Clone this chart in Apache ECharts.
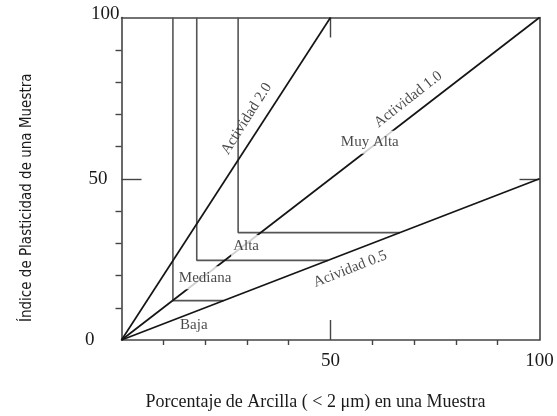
<!DOCTYPE html>
<html>
<head>
<meta charset="utf-8">
<script src="https://cdn.jsdelivr.net/npm/echarts@6/dist/echarts.min.js"></script>
<style>
  html, body { margin: 0; padding: 0; background: #fff; }
  #chart { width: 557px; height: 416px; }
</style>
</head>
<body>
<div id="chart"></div>
<script>
// Activity lines (clay fraction vs. plasticity index)
const activity20 = [[0, 0], [50, 100]];
const activity10 = [[0, 0], [100, 100]];
const activity05 = [[0, 0], [100, 50]];

// Zone boundaries: vertical drop from the top, then horizontal to the 0.5 line
const zoneMediana = [[12.3, 100], [12.3, 12.2], [24.4, 12.2]];
const zoneAlta    = [[18.0, 100], [18.0, 24.7], [49.4, 24.7]];
const zoneMuyAlta = [[27.9, 100], [27.9, 33.3], [66.6, 33.3]];

// Annotations
const noteTexts = ['Actividad 2.0', 'Actividad 1.0', 'Acividad 0.5', 'Muy Alta', 'Alta', 'Mediana', 'Baja'];
const noteX     = [29.9, 68.6, 54.7, 59.4, 29.8, 20.0, 17.3];
const noteY     = [68.6, 74.6, 22.0, 61.3, 29.0, 19.3, 4.6];
const noteSlope = [2, 1, 0.5, null, null, null, null];
const noteBoxed = [false, false, false, true, true, true, false];

// Axis tick values
const minorTicks = [10, 20, 30, 40, 60, 70, 80, 90];
const majorTicks = [50];
const xTickLabels = [50, 100];
const yTickLabels = [0, 50, 100];

const GRID = { left: 121.5, right: 17.5, top: 17.5, bottom: 70 };
const plotW = 557 - GRID.left - GRID.right;
const plotH = 416 - GRID.top - GRID.bottom;

const SERIF = "'Liberation Serif', 'Times New Roman', serif";
const NARROW = "'Liberation Sans Narrow', 'DejaVu Sans Condensed', sans-serif";
const FRAME = '#444';
const INK = '#151515';
const ZONE = '#555';
const TEXT = '#1a1a1a';

function slopeAngle(s) {
  // on-screen angle of a line with data slope s
  return Math.atan(s * (plotH / 100) / (plotW / 100)) * 180 / Math.PI;
}

function baseAxis(extra) {
  return Object.assign({
    type: 'value', min: 0, max: 100, interval: 10,
    splitLine: { show: false },
    axisLine: { show: false, onZero: false },
    axisTick: { show: false },
    axisLabel: { show: false }
  }, extra);
}

const tickStyle = { color: FRAME, width: 1.4 };

const chart = echarts.init(document.getElementById('chart'), null, { renderer: 'canvas' });

const lineSeries = (data, color, width) => ({
  type: 'line', data, xAxisIndex: 0, yAxisIndex: 0,
  symbol: 'none', silent: true, z: 2,
  lineStyle: { color, width }
});

chart.setOption({
  animation: false,
  backgroundColor: '#fff',
  grid: GRID,
  xAxis: [
    baseAxis({
      position: 'bottom',
      axisLine: { show: true, onZero: false, lineStyle: { color: FRAME, width: 1.6 } },
      axisTick: { show: true, inside: false, length: 5, customValues: minorTicks, lineStyle: tickStyle },
      axisLabel: {
        show: true, customValues: xTickLabels, margin: 12,
        color: TEXT, fontFamily: SERIF, fontSize: 19
      },
      name: 'Porcentaje de Arcilla ( < 2 μm) en una Muestra',
      nameLocation: 'middle', nameGap: 53,
      nameTextStyle: { color: TEXT, fontFamily: SERIF, fontSize: 18, padding: [0, 30, 0, 0] }
    }),
    baseAxis({
      position: 'bottom',
      axisTick: { show: true, inside: true, length: 20, customValues: majorTicks, lineStyle: tickStyle }
    }),
    baseAxis({
      position: 'top',
      axisLine: { show: true, onZero: false, lineStyle: { color: FRAME, width: 1.6 } },
      axisTick: { show: true, inside: true, length: 20, customValues: majorTicks, lineStyle: tickStyle }
    })
  ],
  yAxis: [
    baseAxis({
      position: 'left',
      axisLine: { show: true, onZero: false, lineStyle: { color: FRAME, width: 1.6 } },
      axisTick: { show: true, inside: false, length: 6, customValues: minorTicks, lineStyle: tickStyle },
      axisLabel: {
        show: true, customValues: yTickLabels, margin: 0,
        color: TEXT, fontFamily: SERIF, fontSize: 19,
        formatter: v => (v === 0 ? '{z|0}' : v === 50 ? '{f|50}' : '{h|100}'),
        rich: {
          z: { fontFamily: SERIF, fontSize: 19, color: TEXT, padding: [0, 27, 0, 0] },
          f: { fontFamily: SERIF, fontSize: 19, color: TEXT, padding: [0, 14, 0, 0] },
          h: { fontFamily: SERIF, fontSize: 19, color: TEXT, padding: [0, 2, 6, 0] }
        }
      },
      name: 'Índice de Plasticidad de una Muestra',
      nameLocation: 'middle', nameGap: 87, nameRotate: 90,
      nameTextStyle: { color: TEXT, fontFamily: NARROW, fontSize: 15, padding: [0, 38, 0, 0] }
    }),
    baseAxis({
      position: 'left',
      axisTick: { show: true, inside: true, length: 20, customValues: majorTicks, lineStyle: tickStyle }
    }),
    baseAxis({
      position: 'right',
      axisLine: { show: true, onZero: false, lineStyle: { color: FRAME, width: 1.6 } },
      axisTick: { show: true, inside: true, length: 20, customValues: majorTicks, lineStyle: tickStyle }
    })
  ],
  series: [
    lineSeries(zoneMediana, ZONE, 1.6),
    lineSeries(zoneAlta, ZONE, 1.6),
    lineSeries(zoneMuyAlta, ZONE, 1.6),
    lineSeries(activity20, INK, 1.7),
    lineSeries(activity10, INK, 1.7),
    lineSeries(activity05, INK, 1.7),
    {
      type: 'scatter', xAxisIndex: 0, yAxisIndex: 0,
      symbolSize: 0, silent: true, z: 5,
      data: noteTexts.map((t, i) => ({
        value: [noteX[i], noteY[i]],
        label: {
          show: true, position: 'inside', formatter: t,
          rotate: noteSlope[i] ? slopeAngle(noteSlope[i]) : 0,
          fontFamily: SERIF, fontSize: 15, color: TEXT,
          backgroundColor: noteBoxed[i] ? '#fff' : 'transparent',
          padding: noteBoxed[i] ? [4, 2, 4, 2] : 0
        }
      }))
    }
  ]
});
</script>
</body>
</html>
